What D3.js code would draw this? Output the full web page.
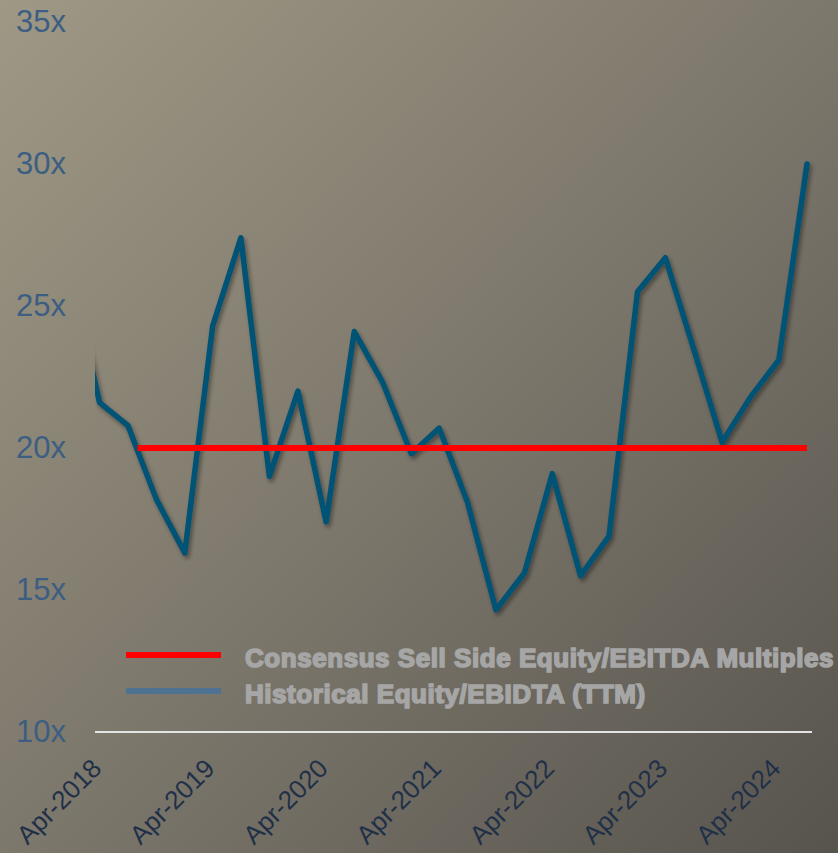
<!DOCTYPE html>
<html>
<head>
<meta charset="utf-8">
<script src="https://cdn.jsdelivr.net/npm/d3@7"></script>
<style>
  body { margin: 0; }
  svg { display: block; }
</style>
</head>
<body>
<div id="chart"></div>
<script>
// quarterly observations (first one is cut off by the plot edge)
var quarters = ["2018-01", "2018-04", "2018-07", "2018-10",
    "2019-01", "2019-04", "2019-07", "2019-10",
    "2020-01", "2020-04", "2020-07", "2020-10",
    "2021-01", "2021-04", "2021-07", "2021-10",
    "2022-01", "2022-04", "2022-07", "2022-10",
    "2023-01", "2023-04", "2023-07", "2023-10",
    "2024-01", "2024-04", "2024-07"];

var historical = [26.0, 21.6, 20.8, 18.2,
    16.3, 24.3, 27.4, 19.0,
    22.0, 17.4, 24.1, 22.3,
    19.8, 20.7, 18.1, 14.3,
    15.6, 19.1, 15.5, 16.9,
    25.5, 26.7, 23.5, 20.2,
    21.8, 23.1, 30.0];

var consensusDates = ["2018-08", "2024-07"];
var consensusValues = [20, 20];

var tickDates = ["2018-04", "2019-04", "2020-04", "2021-04", "2022-04", "2023-04", "2024-04"];
var tickLabels = ["Apr-2018", "Apr-2019", "Apr-2020", "Apr-2021", "Apr-2022", "Apr-2023", "Apr-2024"];

var yTicks = [10, 15, 20, 25, 30, 35];

var legendLabels = ["Consensus Sell Side Equity/EBITDA Multiples", "Historical Equity/EBIDTA (TTM)"];
var legendColors = ["#ff0000", "#4f7192"];

var width = 838, height = 853;
var plotLeft = 95, plotRight = 812, plotTop = 22, plotBottom = 732;

var parse = d3.timeParse("%Y-%m");

var svg = d3.select("#chart")
  .append("svg")
    .attr("width", width)
    .attr("height", height);

var defs = svg.append("defs");

var grad = defs.append("linearGradient")
    .attr("id", "bg")
    .attr("x1", 0).attr("y1", 0)
    .attr("x2", 1).attr("y2", 1);
grad.append("stop").attr("offset", "0%").attr("stop-color", "#9f9885");
grad.append("stop").attr("offset", "50%").attr("stop-color", "#7d786c");
grad.append("stop").attr("offset", "100%").attr("stop-color", "#57544e");

var shadow = defs.append("filter")
    .attr("id", "shadow")
    .attr("x", "-10%").attr("y", "-10%")
    .attr("width", "120%").attr("height", "120%");
shadow.append("feDropShadow")
    .attr("dx", 2).attr("dy", 3)
    .attr("stdDeviation", 2)
    .attr("flood-color", "#000")
    .attr("flood-opacity", 0.4);

defs.append("clipPath")
    .attr("id", "plotclip")
  .append("rect")
    .attr("x", plotLeft)
    .attr("y", 0)
    .attr("width", width - plotLeft)
    .attr("height", plotBottom);

svg.append("rect")
    .attr("width", width)
    .attr("height", height)
    .attr("fill", "url(#bg)");

// scales
var x = d3.scaleTime()
    .domain([parse(quarters[0]), parse(quarters[quarters.length - 1])])
    .range([71.7, 807]);

var y = d3.scaleLinear()
    .domain([10, 35])
    .range([plotBottom, plotTop]);

// Y axis
var yAxis = svg.append("g")
    .attr("transform", "translate(66,0)")
    .call(d3.axisLeft(y).tickValues(yTicks).tickSize(0).tickPadding(0)
        .tickFormat(function(d) { return d + "x"; }));
yAxis.select(".domain").remove();
yAxis.selectAll("text")
    .attr("font-family", "'Liberation Sans', Arial, sans-serif")
    .attr("font-size", 31)
    .attr("fill", "#3c5e82");

// X axis
var xAxis = svg.append("g")
    .attr("transform", "translate(0," + plotBottom + ")")
    .call(d3.axisBottom(x).tickValues(tickDates.map(parse)).tickSize(0)
        .tickFormat(function(d, i) { return tickLabels[i]; }));
xAxis.select(".domain").remove();
xAxis.selectAll("text")
    .attr("x", 0)
    .attr("y", 0)
    .attr("dy", null)
    .attr("transform", "translate(3,38) rotate(-45)")
    .attr("text-anchor", "end")
    .attr("font-family", "'Liberation Sans', Arial, sans-serif")
    .attr("font-size", 26)
    .attr("fill", "#1f3048");

svg.append("line")
    .attr("x1", plotLeft).attr("x2", plotRight)
    .attr("y1", plotBottom).attr("y2", plotBottom)
    .attr("stroke", "#e4e4e4")
    .attr("stroke-width", 2);

// historical line
var histData = quarters.map(function(q, i) { return {date: parse(q), value: historical[i]}; });

var line = d3.line()
    .x(function(d) { return x(d.date); })
    .y(function(d) { return y(d.value); });

svg.append("g")
    .attr("clip-path", "url(#plotclip)")
  .append("path")
    .datum(histData)
    .attr("d", line)
    .attr("fill", "none")
    .attr("stroke", "#005274")
    .attr("stroke-width", 5.5)
    .attr("stroke-linejoin", "round")
    .attr("stroke-linecap", "round")
    .attr("filter", "url(#shadow)");

// consensus line
var consData = consensusDates.map(function(q, i) { return {date: parse(q), value: consensusValues[i]}; });

svg.append("path")
    .datum(consData)
    .attr("d", line)
    .attr("fill", "none")
    .attr("stroke", "#ff0000")
    .attr("stroke-width", 6);

// legend
var legend = svg.selectAll(".legend")
    .data(legendLabels)
    .enter()
    .append("g")
    .attr("class", "legend")
    .attr("transform", function(d, i) { return "translate(126," + (655 + i * 36) + ")"; });

legend.append("line")
    .attr("x1", 0).attr("x2", 95)
    .attr("y1", 0).attr("y2", 0)
    .attr("stroke", function(d, i) { return legendColors[i]; })
    .attr("stroke-width", 6);

legend.append("text")
    .attr("x", 119)
    .attr("y", 12)
    .attr("font-family", "'Liberation Sans', Arial, sans-serif")
    .attr("font-weight", "bold")
    .attr("font-size", 26)
    .attr("letter-spacing", 0.55)
    .attr("fill", "#a6a6a6")
    .attr("stroke", "#a6a6a6")
    .attr("stroke-width", 1.6)
    .text(function(d) { return d; });
</script>
</body>
</html>
